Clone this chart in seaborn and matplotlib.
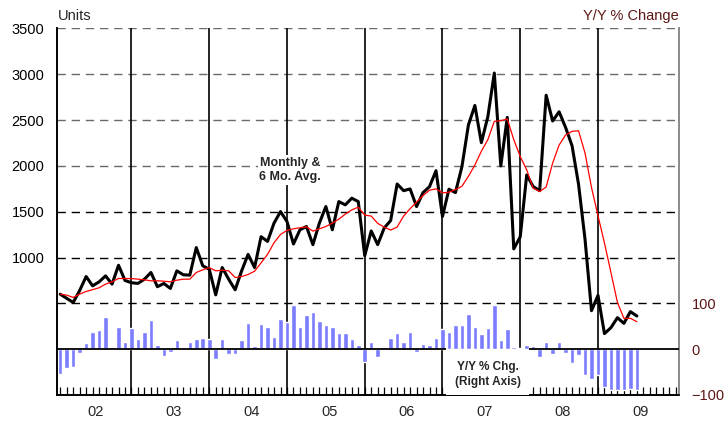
import matplotlib
matplotlib.use('Agg')
import matplotlib.pyplot as plt
from matplotlib.patches import Rectangle
import numpy as np
import pandas as pd
import seaborn as sns

# monthly units, Jan 2002 .. Jun 2009
monthly = [600, 555, 510, 640, 793, 691, 735, 800, 710, 916, 750, 725,
           718, 764, 837, 682, 717, 663, 855, 812, 808, 1109, 910, 873,
           593, 891, 764, 648, 855, 1035, 891, 1228, 1176, 1376, 1502, 1394,
           1148, 1303, 1339, 1141, 1376, 1557, 1303, 1611, 1575, 1648, 1611, 1020,
           1290, 1141, 1322, 1404, 1803, 1730, 1749, 1557, 1709, 1774, 1948, 1449,
           1746, 1709, 1992, 2446, 2660, 2254, 2537, 3014, 2000, 2530, 1095, 1226,
           1902, 1774, 1730, 2772, 2490, 2591, 2420, 2220, 1800, 1200, 420, 587,
           170, 235, 344, 282, 410, 362]
# 6 month average
avg6 = [601, 590, 565, 601, 630, 650, 670, 710, 735, 772, 771, 771,
        764, 757, 746, 746, 742, 735, 753, 764, 764, 837, 866, 891,
        855, 862, 855, 782, 793, 815, 851, 942, 1035, 1162, 1252, 1296,
        1314, 1325, 1336, 1289, 1314, 1339, 1376, 1419, 1474, 1520, 1550, 1463,
        1453, 1373, 1333, 1300, 1333, 1453, 1533, 1605, 1677, 1735, 1750, 1706,
        1713, 1742, 1778, 1887, 2010, 2160, 2287, 2487, 2494, 2512, 2287, 2103,
        1957, 1757, 1721, 1770, 2030, 2228, 2337, 2378, 2384, 2140, 1765, 1458,
        1159, 837, 511, 337, 337, 300]
# year over year % change
yoy = [-54, -41, -38, -9, 13, 38, 42, 70, 4, 49, 16, 46,
       22, 37, 64, 10, -14, -7, 20, 3, 15, 22, 24, 22,
       -21, 22, -10, -10, 21, 58, 7, 56, 49, 27, 66, 59,
       96, 48, 74, 81, 62, 53, 48, 35, 36, 23, 10, -28,
       16, -16, 4, 25, 36, 15, 38, -6, 12, 9, 25, 45,
       38, 52, 53, 77, 49, 33, 47, 96, 20, 45, 4, 3,
       9, 6, -16, 15, -10, 15, -8, -30, -12, -56, -66, -56,
       -82, -88, -88, -88, -86, -88]
years = ['02', '03', '04', '05', '06', '07', '08', '09']

df = pd.DataFrame({'month': np.arange(len(monthly)), 'monthly': monthly,
                   'avg6': avg6, 'yoy': yoy})
n_months = 12 * len(years)
maroon = '#5e1717'

sns.set_theme(style='white')
plt.rcParams['font.family'] = ['Liberation Sans', 'DejaVu Sans']

fig = plt.figure(figsize=(7.24, 4.24), dpi=100)
ax = fig.add_axes([0.0787, 0.0684, 0.8591, 0.8644])
ax2 = ax.twinx()

# grid
for v in range(500, 3501, 500):
    c = '#6a6a6a' if v >= 2000 else 'black'
    ax.axhline(v, color=c, lw=1.0, dashes=(6, 4.2), zorder=1)
# year dividers (December of each year)
for k in range(len(years) - 1):
    ax.axvline(11 + 12 * k, color='black', lw=1.2, zorder=2)

sns.lineplot(data=df, x='month', y='monthly', ax=ax, color='black', lw=2.2, zorder=3)
sns.lineplot(data=df, x='month', y='avg6', ax=ax, color='red', lw=0.9, zorder=4)

ax.text(35.5, 1955, 'Monthly &\n6 Mo. Avg.', ha='center', va='center', fontsize=9,
        fontweight='bold', linespacing=1.3, zorder=6,
        bbox=dict(facecolor='white', edgecolor='none', pad=1.0))

ax.set_xlim(-0.5, n_months - 0.5)
ax.set_ylim(-500, 3500)
ax2.set_ylim(-100, 700)

ax2.bar(df['month'], df['yoy'], width=0.7, color='#7c7cff', zorder=2)
box_l, box_r = 59.6, 72.35
ax2.hlines(0, -0.5, box_l, color='black', lw=1.3, zorder=3)
ax2.hlines(0, box_r, n_months - 0.5, color='black', lw=1.3, zorder=3)
ax2.add_patch(Rectangle((box_l, -100), box_r - box_l, 100, facecolor='white',
                        edgecolor='none', zorder=4))
ax2.text((box_l + box_r) / 2, -55, 'Y/Y % Chg.\n(Right Axis)', ha='center', va='center',
         fontsize=8.5, fontweight='bold', linespacing=1.25, zorder=5)

ax.set_xlabel('')
ax.set_ylabel('')
ax2.set_ylabel('')
ax.set_xticks([5.5 + 12 * k for k in range(len(years))])
ax.set_xticklabels(years)
ax.set_xticks(np.arange(n_months), minor=True)
ax.tick_params(axis='x', which='major', length=0, pad=7, labelsize=10.5)
ax.tick_params(axis='x', which='minor', bottom=True, direction='in', length=5.5,
               width=0.9, color='black')
ax.set_yticks(range(1000, 3501, 500))
ax.tick_params(axis='y', length=0, pad=9, labelsize=10.5, colors='black')
ax2.set_yticks([-100, 0, 100])
ax2.tick_params(axis='y', length=0, pad=9, labelsize=10.5, labelcolor=maroon)

for a in (ax, ax2):
    a.spines['top'].set_visible(False)
    a.spines['left'].set_color('black')
    a.spines['left'].set_linewidth(1.2)
    a.spines['bottom'].set_color('black')
    a.spines['bottom'].set_linewidth(1.2)
    a.spines['right'].set_color('#8a8a8a')
    a.spines['right'].set_linewidth(1.2)
    a.grid(False)

fig.text(0.0801, 0.962, 'Units', ha='left', va='center', fontsize=10.5)
fig.text(0.9378, 0.962, 'Y/Y % Change', ha='right', va='center', fontsize=10.5, color=maroon)

fig.savefig('out.png', dpi=100)
